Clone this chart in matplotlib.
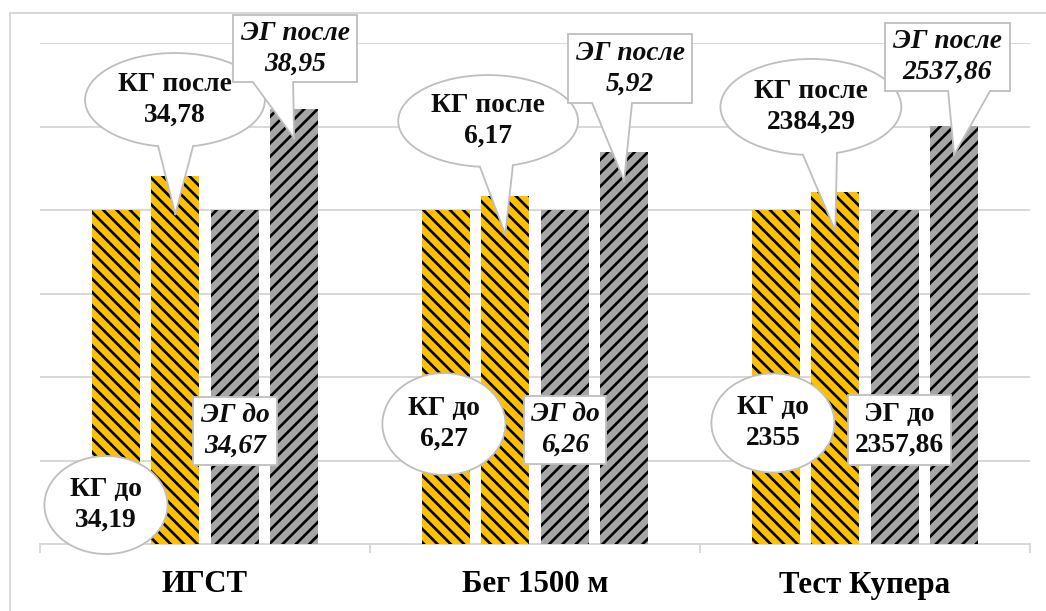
import numpy as np
import matplotlib
matplotlib.use("Agg")
import matplotlib.pyplot as plt
from matplotlib.patches import Ellipse, Rectangle, Polygon
from matplotlib.lines import Line2D

plt.rcParams["font.family"] = ["Liberation Serif", "DejaVu Serif"]
plt.rcParams["hatch.linewidth"] = 1.6

categories = ["ИГСТ", "Бег 1500 м", "Тест Купера"]

# Test results written in the callouts
kg_before = [34.19, 6.27, 2355]
kg_after = [34.78, 6.17, 2384.29]
eg_before = [34.67, 6.26, 2357.86]
eg_after = [38.95, 5.92, 2537.86]

# Relative score shown by bar height (baseline level = 4)
kg_before_score = [4.0, 4.0, 4.0]
kg_after_score = [4.41, 4.17, 4.21]
eg_before_score = [4.0, 4.0, 4.0]
eg_after_score = [5.21, 4.70, 5.01]

DPI = 120
fig = plt.figure(figsize=(1046 / DPI, 611 / DPI), dpi=DPI)
ax = fig.add_axes([40 / 1046, (611 - 544) / 611, 990 / 1046, 501 / 611])

YELLOW = "#FFC000"
GREY = "#A6A6A6"
LINE = "#D9D9D9"
EDGE = "#BFBFBF"

x = np.arange(len(categories))
offsets = [-0.27, -0.09, 0.09, 0.27]
width = 0.145
series = [
    (kg_before_score, YELLOW, "\\" * 3),
    (kg_after_score, YELLOW, "\\" * 3),
    (eg_before_score, GREY, "/" * 3),
    (eg_after_score, GREY, "/" * 3),
]
for (vals, col, hatch), off in zip(series, offsets):
    ax.bar(x + off, vals, width, color=col, edgecolor="black", hatch=hatch,
           linewidth=0, zorder=3)

ax.set_xlim(-0.5, 2.5)
ax.set_ylim(0, 6)
for gy in range(1, 7):
    ax.axhline(gy, color=LINE, lw=1.2, zorder=1)
for side in ("left", "right", "top"):
    ax.spines[side].set_visible(False)
ax.spines["bottom"].set_color(LINE)
ax.spines["bottom"].set_linewidth(1.2)
ax.set_yticks([])
ax.set_xticks([-0.5, 0.5, 1.5, 2.5])
ax.set_xticklabels([])
ax.tick_params(axis="x", length=5.5, width=1.2, color=LINE)

for i, name in enumerate(categories):
    ax.text(i, -(585 - 544) / 83.5, name, ha="center", va="center",
            fontsize=18.5, fontweight="bold", clip_on=False)


def fmt(v):
    return f"{v:g}".replace(".", ",")


# Callout geometry relative to the category centre: (dx, cy, w, h)
kg_before_box = [(-0.30, 0.467, 0.373, 1.174), (-0.276, 1.437, 0.373, 1.22), (-0.279, 1.449, 0.373, 1.186)]
kg_after_box = [(-0.091, 5.317, 0.545, 1.126), (-0.142, 5.066, 0.545, 1.10), (-0.164, 5.234, 0.548, 1.15)]
eg_before_box = [(0.091, 1.353, 0.2545, 0.814), (0.091, 1.365, 0.248, 0.814), (0.105, 1.365, 0.312, 0.838)]
eg_after_box = [(0.273, 5.934, 0.376, 0.802), (0.288, 5.695, 0.376, 0.826), (0.25, 5.832, 0.379, 0.814)]
kg_after_base = [(-0.142, -0.036), (-0.167, -0.067), (-0.188, -0.085)]
eg_after_base = [(0.145, 0.267), (0.173, 0.294), (0.252, 0.379)]

TXT = dict(ha="center", va="center", fontsize=16.5, fontweight="bold",
           linespacing=1.3, zorder=8, clip_on=False, color="#0D0D0D")


def ellipse_callout(cx, cy, w, h, text, tip=None, base=None):
    ax.add_patch(Ellipse((cx, cy), w, h, facecolor="white", edgecolor=EDGE,
                         lw=1.1, zorder=5, clip_on=False))
    if tip is not None:
        def bottom_y(xx):
            return cy - h / 2 * np.sqrt(max(0.0, 1 - ((xx - cx) / (w / 2)) ** 2))
        b0, b1 = base
        y0, y1 = bottom_y(b0), bottom_y(b1)
        eps = 0.06
        ax.add_patch(Polygon([(b0, y0 + eps), (b0, y0), tip, (b1, y1), (b1, y1 + eps)],
                             closed=True, facecolor="white", edgecolor="none",
                             zorder=6, clip_on=False))
        for bx, by in ((b0, y0), (b1, y1)):
            ax.add_line(Line2D([bx, tip[0]], [by, tip[1]], color=EDGE, lw=1.1,
                               zorder=6, clip_on=False))
    ax.text(cx, cy, text, **TXT)


def rect_callout(cx, cy, w, h, text, italic=True, tip=None, base=None):
    ax.add_patch(Rectangle((cx - w / 2, cy - h / 2), w, h, facecolor="white",
                           edgecolor=EDGE, lw=1.1, zorder=5, clip_on=False))
    if tip is not None:
        b0, b1 = base
        yb = cy - h / 2
        eps = 0.05
        ax.add_patch(Polygon([(b0, yb + eps), (b0, yb), tip, (b1, yb), (b1, yb + eps)],
                             closed=True, facecolor="white", edgecolor="none",
                             zorder=6, clip_on=False))
        for bx in (b0, b1):
            ax.add_line(Line2D([bx, tip[0]], [yb, tip[1]], color=EDGE, lw=1.1,
                               zorder=6, clip_on=False))
    ax.text(cx, cy, text, style="italic" if italic else "normal", **TXT)


for i in range(len(categories)):
    dx, cy, w, h = kg_before_box[i]
    ellipse_callout(i + dx, cy, w, h, f"КГ до\n{fmt(kg_before[i])}")

    dx, cy, w, h = kg_after_box[i]
    tip = (i + offsets[1], kg_after_score[i] - 0.46)
    base = (i + kg_after_base[i][0], i + kg_after_base[i][1])
    ellipse_callout(i + dx, cy, w, h, f"КГ после\n{fmt(kg_after[i])}", tip, base)

    dx, cy, w, h = eg_before_box[i]
    rect_callout(i + dx, cy, w, h, f"ЭГ до\n{fmt(eg_before[i])}", italic=(i != 2))

    dx, cy, w, h = eg_after_box[i]
    tip = (i + offsets[3], eg_after_score[i] - 0.35)
    base = (i + eg_after_base[i][0], i + eg_after_base[i][1])
    rect_callout(i + dx, cy, w, h, f"ЭГ после\n{fmt(eg_after[i])}", True, tip, base)

# Chart area frame
fig.add_artist(Line2D([9.5 / 1046, 1], [1 - 13 / 611, 1 - 13 / 611],
                      transform=fig.transFigure, color=LINE, lw=1.2))
fig.add_artist(Line2D([9.5 / 1046, 9.5 / 1046], [0, 1 - 13 / 611],
                      transform=fig.transFigure, color=LINE, lw=1.2))

fig.savefig("out.png", dpi=DPI, facecolor="white")
